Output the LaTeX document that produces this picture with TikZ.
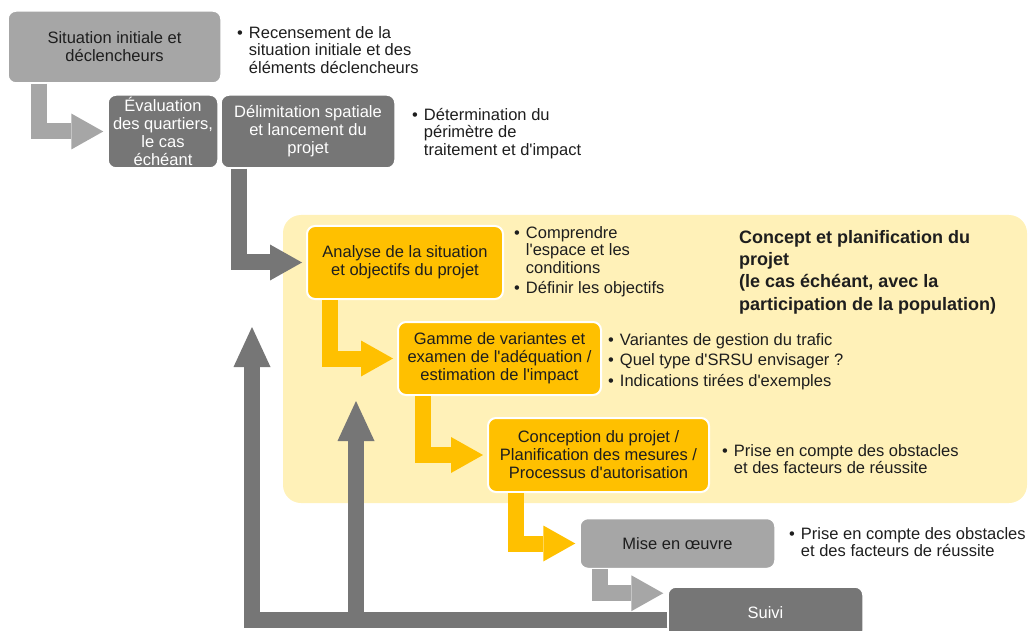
\documentclass[tikz,border=0pt]{standalone}
\usepackage{fontspec}
\setmainfont{Liberation Sans}
\usetikzlibrary{arrows.meta}

\definecolor{lgrey}{RGB}{166,166,166}
\definecolor{dgrey}{RGB}{118,118,118}
\definecolor{amber}{RGB}{255,192,0}
\definecolor{panel}{RGB}{255,241,184}
\definecolor{ink}{RGB}{30,30,30}

\newcommand\boxfont{\fontsize{16.5}{18}\selectfont}
\newcommand\notefont{\fontsize{16.5}{17.5}\selectfont}
\newcommand\sq{\textquotesingle}

\begin{document}
\begin{tikzpicture}[x=1pt,y=-1pt,
    box/.style={rounded corners=8pt,draw=white,line width=1.5pt,align=center,inner sep=0pt,font=\boxfont},
    greybox/.style={box,fill=lgrey,text=ink},
    darkbox/.style={box,fill=dgrey,text=white},
    amberbox/.style={box,fill=amber,text=ink,line width=2pt},
    note/.style={anchor=north west,inner sep=0pt,font=\notefont,text=ink},
    flow/.style={line width=16pt,shorten >=4pt,-{Triangle[length=32pt,width=36pt,line width=0pt]}},
    back/.style={line width=16pt,-{Triangle[length=40pt,width=37pt,line width=0pt]}}]

	\clip (0,0) rectangle (1031,631);
	\fill[panel,rounded corners=18pt] (283,215) rectangle (1027,503);

	% steps
	\node[greybox,minimum width=213pt,minimum height=72pt] (init) at (114.5,47) {Situation initiale et\\déclencheurs};
	\node[darkbox,minimum width=110pt,minimum height=73pt] (quart) at (163,131.5) {Évaluation\\des quartiers,\\le cas\\échéant};
	\node[darkbox,minimum width=174pt,minimum height=73pt] (delim) at (308,131.5) {Délimitation spatiale\\et lancement du\\projet};
	\node[amberbox,minimum width=196pt,minimum height=73pt] (anal) at (405,262.5) {Analyse de la situation\\et objectifs du projet};
	\node[amberbox,minimum width=203pt,minimum height=73pt] (gamme) at (499.5,358.5) {Gamme de variantes et\\examen de l\sq adéquation /\\estimation de l\sq impact};
	\node[amberbox,minimum width=221pt,minimum height=74pt] (conc) at (598.5,455) {Conception du projet /\\Planification des mesures /\\Processus d\sq autorisation};
	\node[greybox,minimum width=195pt,minimum height=50pt] (mise) at (677.5,543.5) {Mise en œuvre};
	\node[darkbox,minimum width=195pt,minimum height=52pt] (suivi) at (765.5,613) {Suivi};

	% flow
	\draw[lgrey,flow] ([xshift=32pt]init.south west) |- (quart.west);
	\draw[dgrey,flow] ([xshift=19pt]delim.south west) |- (anal.west);
	\draw[amber,flow] ([xshift=24pt]anal.south west) |- (gamme.west);
	\draw[amber,flow] ([xshift=26pt]gamme.south west) |- (conc.west);
	\draw[amber,flow] ([xshift=29pt]conc.south west) |- (mise.west);
	\draw[lgrey,flow] ([xshift=21pt]mise.south west) |- ([yshift=-7pt]suivi.north west);

	% back to the start
	\coordinate (fbA) at (252,327);
	\coordinate (fbB) at (356,401);
	\draw[dgrey,back] ([yshift=-7pt]suivi.west) -| (fbA);
	\draw[dgrey,back] ([yshift=-7pt]suivi.west) -| (fbB);

	% notes
	\node[note] (initnote) at (237,26) {\begin{tabular}{@{}l@{\hspace{6pt}}l@{}}\textbullet & Recensement de la\\ & situation initiale et des\\ & éléments déclencheurs\end{tabular}};
	\node[note] (delimnote) at (412,108) {\begin{tabular}{@{}l@{\hspace{6pt}}l@{}}\textbullet & Détermination du\\ & périmètre de\\ & traitement et d\sq impact\end{tabular}};
	\node[note] (analnote) at (514,226) {\begin{tabular}{@{}l@{\hspace{6pt}}l@{}}\textbullet & Comprendre\\ & l\sq espace et les\\ & conditions\\[3pt] \textbullet & Définir les objectifs\end{tabular}};
	\node[note] (gammenote) at (608,333) {\begin{tabular}{@{}l@{\hspace{6pt}}l@{}}\textbullet & Variantes de gestion du trafic\\[3pt] \textbullet & Quel type d\sq SRSU envisager ?\\[3pt] \textbullet & Indications tirées d\sq exemples\end{tabular}};
	\node[note] (concnote) at (722,444) {\begin{tabular}{@{}l@{\hspace{6pt}}l@{}}\textbullet & Prise en compte des obstacles\\ & et des facteurs de réussite\end{tabular}};
	\node[note] (misenote) at (789,527) {\begin{tabular}{@{}l@{\hspace{6pt}}l@{}}\textbullet & Prise en compte des obstacles\\ & et des facteurs de réussite\end{tabular}};

	\node[anchor=north west,inner sep=0pt,align=left,text=ink,font=\bfseries\fontsize{18}{22.3}\selectfont] (title) at (739,230) {Concept et planification du\\projet\\(le cas échéant, avec la\\participation de la population)};
\end{tikzpicture}
\end{document}
